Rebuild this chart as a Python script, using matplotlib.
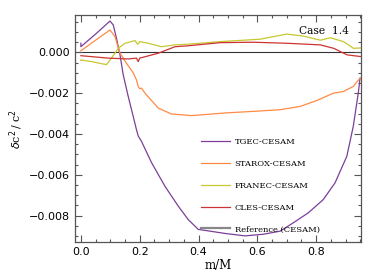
import numpy as np
import matplotlib
matplotlib.use("Agg")
import matplotlib.pyplot as plt
from matplotlib.ticker import MultipleLocator

# TGEC-CESAM (purple)
tgec_x = [0.0, 0.0, 0.05, 0.099, 0.11, 0.121, 0.133, 0.144, 0.161, 0.178, 0.189, 0.195, 0.206,
          0.24, 0.286, 0.331, 0.365, 0.399, 0.49, 0.558, 0.62, 0.677, 0.722, 0.773, 0.824, 0.864,
          0.904, 0.926, 0.943, 0.949]
tgec_y = [0.00045, 0.00028, 0.0009, 0.00154, 0.00135, 0.0007, -0.00012, -0.0011, -0.00216, -0.00314,
          -0.00379, -0.0041, -0.00436, -0.0054, -0.00657, -0.00754, -0.0082, -0.00868, -0.00888,
          -0.0090, -0.00892, -0.00877, -0.00836, -0.00787, -0.00722, -0.0064, -0.0051, -0.00363,
          -0.0020, -0.00126]

# STAROX-CESAM (orange)
starox_x = [0.0, 0.05, 0.099, 0.116, 0.133, 0.155, 0.178, 0.189, 0.195, 0.2, 0.206, 0.218, 0.263,
            0.308, 0.377, 0.49, 0.60, 0.677, 0.745, 0.802, 0.858, 0.892, 0.926, 0.949]
starox_y = [0.00008, 0.0006, 0.0011, 0.00077, -0.00004, -0.00053, -0.001, -0.00135, -0.00167,
            -0.00178, -0.00175, -0.002, -0.00273, -0.00302, -0.0031, -0.00297, -0.00288, -0.00281,
            -0.00265, -0.00236, -0.002, -0.00192, -0.00167, -0.00126]

# FRANEC-CESAM (yellow)
franec_x = [0.0, 0.0, 0.036, 0.087, 0.104, 0.127, 0.15, 0.184, 0.193, 0.2, 0.229, 0.274, 0.32,
            0.36, 0.474, 0.61, 0.70, 0.757, 0.814, 0.848, 0.893, 0.927, 0.95]
franec_y = [-0.0004, -0.00037, -0.00045, -0.0006, -0.00028, 0.0002, 0.00045, 0.00058, 0.0004,
            0.00053, 0.00045, 0.00028, 0.00037, 0.0004, 0.00053, 0.00065, 0.0009, 0.0008, 0.0006,
            0.00072, 0.00053, 0.0002, 0.00022]

# CLES-CESAM (red)
cles_x = [0.0, 0.093, 0.161, 0.189, 0.195, 0.2, 0.263, 0.32, 0.36, 0.474, 0.587, 0.70, 0.814,
          0.86, 0.905, 0.95]
cles_y = [-0.00016, -0.00028, -0.00032, -0.00028, -0.00045, -0.00028, -0.00004, 0.00028, 0.00032,
          0.00048, 0.0005, 0.00045, 0.00037, 0.0002, -0.00012, -0.0002]

ref_x = [-0.02, 0.952]
ref_y = [0.0, 0.0]

fig = plt.figure(figsize=(3.74, 2.75), dpi=100)
ax = fig.add_axes([0.2005, 0.12, 0.7645, 0.825])

ax.plot(ref_x, ref_y, color="#333333", lw=0.8, zorder=1)
ax.plot(tgec_x, tgec_y, color="#7b3f98", lw=0.9, label="TGEC-CESAM")
ax.plot(starox_x, starox_y, color="#ff8a45", lw=0.9, label="STAROX-CESAM")
ax.plot(franec_x, franec_y, color="#c8c830", lw=0.9, label="FRANEC-CESAM")
ax.plot(cles_x, cles_y, color="#cc3333", lw=0.9, label="CLES-CESAM")
ax.plot([], [], color="#888888", lw=1.6, label="Reference (CESAM)")

ax.set_xlim(-0.02, 0.952)
ax.set_ylim(-0.0093, 0.00183)
ax.xaxis.set_major_locator(MultipleLocator(0.2))
ax.xaxis.set_minor_locator(MultipleLocator(0.05))
ax.yaxis.set_major_locator(MultipleLocator(0.002))
ax.yaxis.set_minor_locator(MultipleLocator(0.0005))
ax.xaxis.set_major_formatter(plt.FuncFormatter(lambda v, p: f"{v:.1f}"))
ax.yaxis.set_major_formatter(plt.FuncFormatter(lambda v, p: f"{v:.3f}".replace("-", "\u2212")))
ax.tick_params(which="both", direction="in", top=True, right=True, color="#555555", labelsize=8)
ax.tick_params(which="major", length=5, width=0.8)
ax.tick_params(which="minor", length=2.5, width=0.8)
for s in ax.spines.values():
    s.set_color("#555555")
    s.set_linewidth(0.9)

ax.set_xlabel("m/M", family="DejaVu Serif", fontsize=8.5, labelpad=1.5)
ax.set_ylabel(r"$\delta$c$^2\!$ / c$^2$", family="DejaVu Serif", fontsize=8, labelpad=3)
ax.text(0.958, 0.95, "Case  1.4", transform=ax.transAxes, ha="right", va="top",
        family="DejaVu Serif", fontsize=7.7)

leg = ax.legend(loc="lower left", bbox_to_anchor=(0.413, 0.005), frameon=False,
                prop={"family": "DejaVu Serif", "size": 6}, handlelength=3.5,
                labelspacing=1.65, handletextpad=0.6)

fig.savefig("out.png", dpi=100)
